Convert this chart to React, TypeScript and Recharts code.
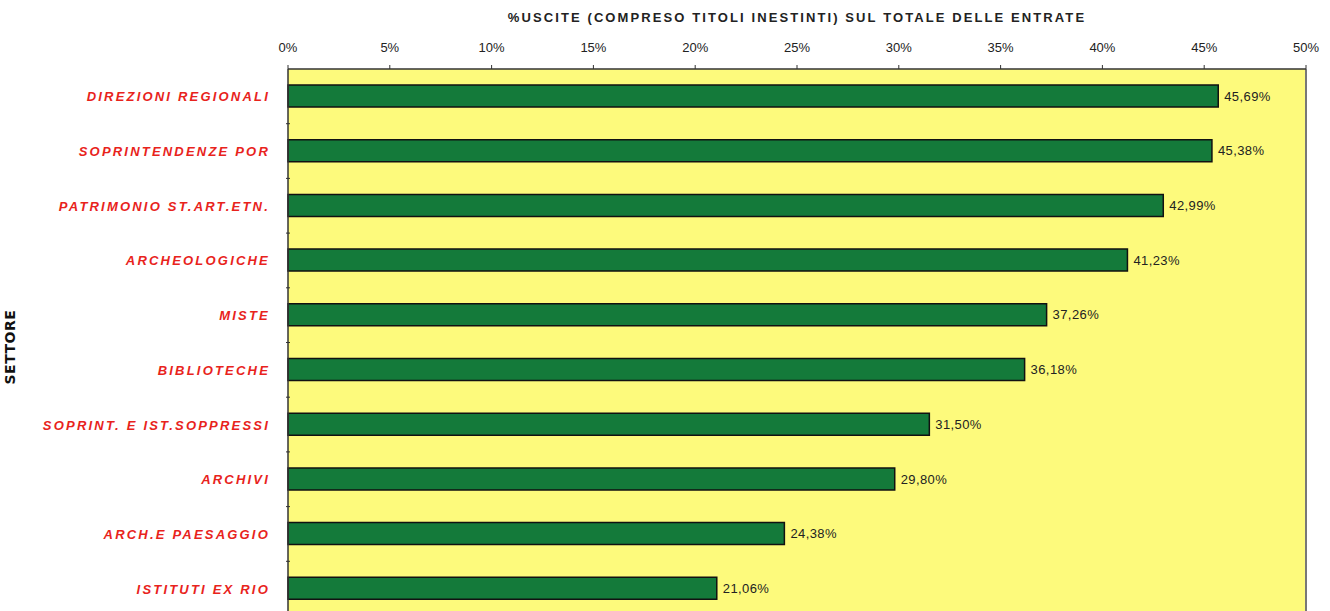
import React from 'react';
import {
  BarChart,
  Bar,
  XAxis,
  YAxis,
  CartesianGrid,
  ReferenceLine,
  LabelList,
} from 'recharts';

const categories = [
  'DIREZIONI REGIONALI',
  'SOPRINTENDENZE POR',
  'PATRIMONIO ST.ART.ETN.',
  'ARCHEOLOGICHE',
  'MISTE',
  'BIBLIOTECHE',
  'SOPRINT. E IST.SOPPRESSI',
  'ARCHIVI',
  'ARCH.E PAESAGGIO',
  'ISTITUTI EX RIO',
];

const uscitePct = [45.69, 45.38, 42.99, 41.23, 37.26, 36.18, 31.5, 29.8, 24.38, 21.06];

const xTicks = [0, 5, 10, 15, 20, 25, 30, 35, 40, 45, 50];

const data = categories.map((name, i) => ({ name, value: uscitePct[i] }));

const W = 1330;
const H = 642;
const M = { top: 49, right: 24, bottom: 26, left: 0 };
const X_AXIS_H = 20;
const band = (H - M.top - X_AXIS_H - M.bottom) / categories.length;
const FONT = 'Liberation Sans, Arial, sans-serif';

const fmt = (v: number) => v.toFixed(2).replace('.', ',') + '%';

// red italic labels + small tick at the category boundary
const CategoryTick = ({ x, y, payload }: any) => (
  <g>
    <line x1={x + 6} x2={x + 10} y1={y + band / 2} y2={y + band / 2} stroke="#333" />
    <text
      x={x - 10}
      y={y}
      dy={5}
      textAnchor="end"
      fill="#e8231c"
      fontSize={13}
      fontWeight={700}
      fontStyle="italic"
      letterSpacing={2.2}
      fontFamily={FONT}
    >
      {payload.value}
    </text>
  </g>
);

export default function App() {
  return (
    <div style={{ position: 'absolute', left: 0, top: 0, width: W, height: 611, overflow: 'hidden', background: '#fff' }}>
      <div
        style={{
          position: 'absolute',
          top: 10,
          left: 288,
          width: 1018,
          textAlign: 'center',
          fontFamily: FONT,
          fontWeight: 700,
          fontSize: 13,
          letterSpacing: 2.1,
          color: '#222',
        }}
      >
        %USCITE (COMPRESO TITOLI INESTINTI) SUL TOTALE DELLE ENTRATE
      </div>
      <BarChart width={W} height={H} data={data} layout="vertical" margin={M} barSize={22}>
        <CartesianGrid fill="#fdfa7c" stroke="#fdfa7c" strokeOpacity={0} />
        <XAxis
          type="number"
          orientation="top"
          domain={[0, 50]}
          ticks={xTicks}
          tickFormatter={(v) => `${v}%`}
          height={X_AXIS_H}
          tickSize={4}
          tickMargin={13}
          axisLine={{ stroke: '#333', strokeWidth: 1.5 }}
          tickLine={{ stroke: '#333' }}
          tick={{ fill: '#222', fontSize: 13, fontFamily: FONT }}
        />
        <YAxis
          type="category"
          dataKey="name"
          width={288}
          tickLine={false}
          axisLine={{ stroke: '#333', strokeWidth: 1.5 }}
          tick={<CategoryTick />}
          interval={0}
          label={{
            value: 'SETTORE',
            angle: -90,
            position: 'insideLeft',
            offset: 10,
            dy: 42,
            style: { fontFamily: 'DejaVu Sans, sans-serif', fontWeight: 900, fontSize: 14, fill: '#111', letterSpacing: 0.5 },
          }}
        />
        <ReferenceLine x={50} stroke="#777" strokeWidth={2} />
        <Bar dataKey="value" fill="#147a3a" stroke="#111" strokeWidth={1.5} isAnimationActive={false}>
          <LabelList
            dataKey="value"
            position="right"
            offset={6}
            formatter={(v: any) => fmt(Number(v))}
            style={{ fill: '#222', fontSize: 13, letterSpacing: 0.4, fontFamily: FONT }}
          />
        </Bar>
      </BarChart>
    </div>
  );
}
